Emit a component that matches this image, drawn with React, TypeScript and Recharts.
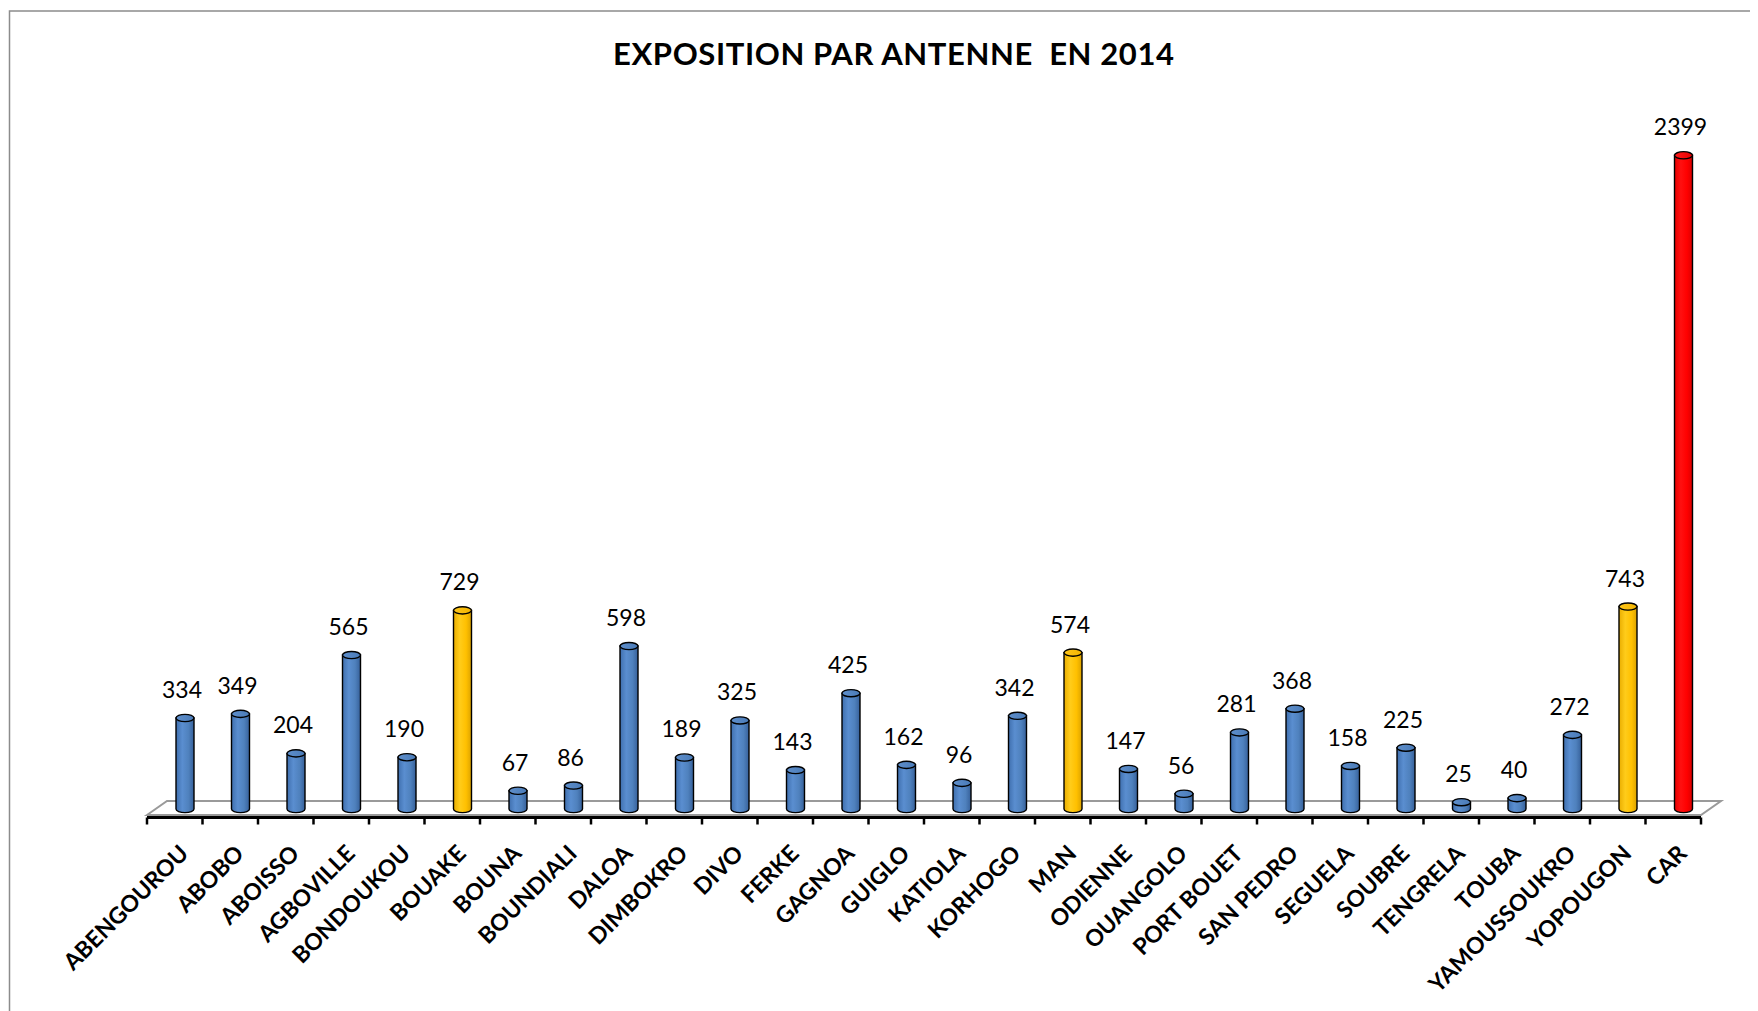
import React from "react";
import { BarChart, Bar, XAxis, YAxis, Cell, LabelList } from "recharts";

const categories = [
  "ABENGOUROU", "ABOBO", "ABOISSO", "AGBOVILLE", "BONDOUKOU", "BOUAKE", "BOUNA",
  "BOUNDIALI", "DALOA", "DIMBOKRO", "DIVO", "FERKE", "GAGNOA", "GUIGLO", "KATIOLA",
  "KORHOGO", "MAN", "ODIENNE", "OUANGOLO", "PORT BOUET", "SAN PEDRO", "SEGUELA",
  "SOUBRE", "TENGRELA", "TOUBA", "YAMOUSSOUKRO", "YOPOUGON", "CAR",
];
const expositions = [
  334, 349, 204, 565, 190, 729, 67, 86, 598, 189, 325, 143, 425, 162, 96,
  342, 574, 147, 56, 281, 368, 158, 225, 25, 40, 272, 743, 2399,
];
const goldCities = ["BOUAKE", "MAN", "YOPOUGON"];
const redCities = ["CAR"];
const title = "EXPOSITION PAR ANTENNE  EN 2014";

const data = categories.map((name, i) => ({ name, value: expositions[i] }));

const W = 1742;
const H = 1003;
const M = { top: 147, right: 39, left: 149, bottom: 12 };
const XAXIS_H = 190;
const PLOT_BOTTOM = H - M.bottom - XAXIS_H;
const PLOT_LEFT = M.left;
const PLOT_RIGHT = W - M.right;
const DEPTH_X = 10;
const FONT = "Lato, 'Open Sans', sans-serif";

function colorKey(name: string) {
  if (redCities.includes(name)) return "red";
  if (goldCities.includes(name)) return "gold";
  return "blue";
}

const Cylinder = (props: any) => {
  const { x, y, width, height, payload } = props;
  if (width == null || height == null) return null;
  const key = colorKey(payload?.name ?? "");
  const rx = width / 2;
  const ry = 3.6;
  const cx = x + rx;
  const top = y;
  const bottom = y + height;
  const body = `M${x},${top} L${x},${bottom} A${rx},${ry} 0 0 0 ${x + width},${bottom} L${x + width},${top} Z`;
  return (
    <g>
      <path d={body} fill={`url(#grad-${key})`} stroke="#000" strokeWidth={1.4} />
      <ellipse cx={cx} cy={top} rx={rx} ry={ry} fill={`url(#top-${key})`} stroke="#000" strokeWidth={1.4} />
    </g>
  );
};

const XTick = (props: any) => {
  const { x, payload } = props;
  const tx = x + 5;
  const ty = 847;
  return (
    <text
      x={tx}
      y={ty}
      transform={`rotate(-45 ${tx} ${ty})`}
      textAnchor="end"
      fontFamily={FONT}
      fontWeight="bold"
      fontSize={23}
      fill="#000"
    >
      {payload.value}
    </text>
  );
};

const ValueLabel = (props: any) => {
  const { x, y, width, value } = props;
  return (
    <text
      x={x + width / 2 - 3}
      y={y - 20}
      textAnchor="middle"
      fontFamily={FONT}
      fontSize={23}
      fill="#000"
    >
      {value}
    </text>
  );
};

const Floor = () => {
  const n = categories.length;
  const band = (PLOT_RIGHT - PLOT_LEFT) / n;
  const fl = PLOT_LEFT - DEPTH_X;
  const fr = PLOT_RIGHT - DEPTH_X;
  const fy = PLOT_BOTTOM + 6;
  const by = PLOT_BOTTOM - 8;
  const bl = PLOT_LEFT + DEPTH_X;
  const br = PLOT_RIGHT + DEPTH_X;
  const ay = PLOT_BOTTOM + 8.5;
  const ticks = [];
  for (let i = 0; i <= n; i++) {
    const tx = fl + i * band;
    ticks.push(<line key={i} x1={tx} x2={tx} y1={ay} y2={ay + 7} stroke="#000" strokeWidth={2.5} />);
  }
  return (
    <g>
      <polygon
        points={`${fl},${fy} ${bl},${by} ${br},${by} ${fr},${fy}`}
        fill="#ffffff"
        stroke="#9a9a9a"
        strokeWidth={2}
      />
      <line x1={fl} x2={fr} y1={ay} y2={ay} stroke="#000" strokeWidth={3} />
      {ticks}
    </g>
  );
};

export default function App() {
  return (
    <div style={{ width: W, height: H }}>
      <BarChart width={W} height={H} data={data} margin={M} barCategoryGap={0}>
        <defs>
          <linearGradient id="grad-blue" x1="0" y1="0" x2="1" y2="0">
            <stop offset="0" stopColor="#3f6fae" />
            <stop offset="0.35" stopColor="#5a8ed0" />
            <stop offset="0.7" stopColor="#4f81bd" />
            <stop offset="1" stopColor="#36609a" />
          </linearGradient>
          <linearGradient id="top-blue" x1="0" y1="0" x2="1" y2="0">
            <stop offset="0" stopColor="#5f8fcb" />
            <stop offset="1" stopColor="#4a7bb8" />
          </linearGradient>
          <linearGradient id="grad-gold" x1="0" y1="0" x2="1" y2="0">
            <stop offset="0" stopColor="#e9ad00" />
            <stop offset="0.35" stopColor="#ffcc1a" />
            <stop offset="0.7" stopColor="#ffc000" />
            <stop offset="1" stopColor="#dba200" />
          </linearGradient>
          <linearGradient id="top-gold" x1="0" y1="0" x2="1" y2="0">
            <stop offset="0" stopColor="#ffc61a" />
            <stop offset="1" stopColor="#f2b400" />
          </linearGradient>
          <linearGradient id="grad-red" x1="0" y1="0" x2="1" y2="0">
            <stop offset="0" stopColor="#e80000" />
            <stop offset="0.35" stopColor="#ff1010" />
            <stop offset="0.7" stopColor="#ff0000" />
            <stop offset="1" stopColor="#d80000" />
          </linearGradient>
          <linearGradient id="top-red" x1="0" y1="0" x2="1" y2="0">
            <stop offset="0" stopColor="#ff1a1a" />
            <stop offset="1" stopColor="#e60000" />
          </linearGradient>
        </defs>
        <rect x={1.5} y={3} width={3000} height={3000} fill="none" stroke="#8c8c8c" strokeWidth={1.5} />
        <text
          x={885.5}
          y={57}
          textAnchor="middle"
          fontFamily={FONT}
          fontWeight="bold"
          fontSize={31}
          textLength={561}
          lengthAdjust="spacing"
          fill="#000"
          style={{ whiteSpace: "pre" }}
          xmlSpace="preserve"
        >
          {title}
        </text>
        <Floor />
        <XAxis
          dataKey="name"
          interval={0}
          axisLine={false}
          tickLine={false}
          tickSize={0}
          tickMargin={0}
          height={XAXIS_H}
          tick={<XTick />}
        />
        <YAxis hide domain={[0, 2400]} />
        <Bar dataKey="value" barSize={18} shape={<Cylinder />} isAnimationActive={false}>
          {data.map((d) => (
            <Cell key={d.name} fill={colorKey(d.name)} />
          ))}
          <LabelList dataKey="value" content={<ValueLabel />} />
        </Bar>
      </BarChart>
    </div>
  );
}
